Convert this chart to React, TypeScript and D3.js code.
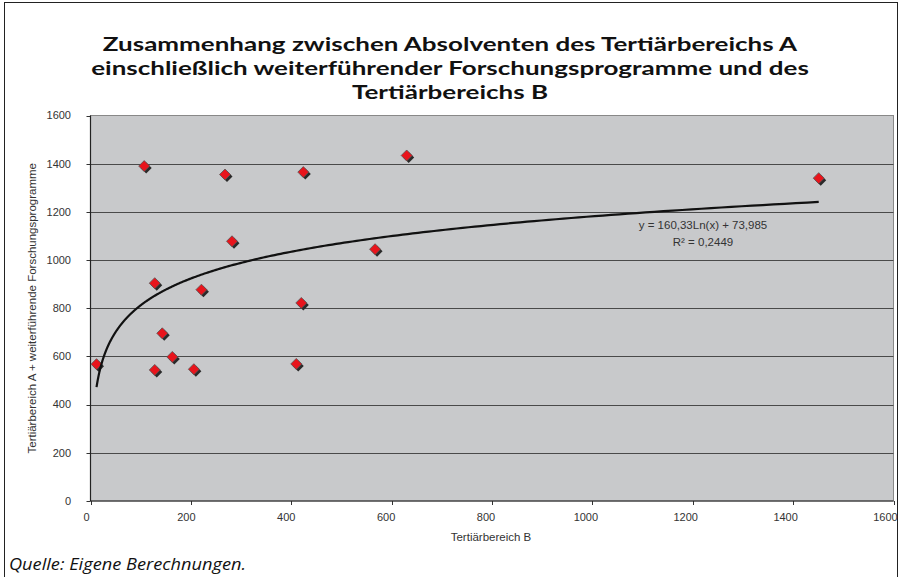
import React, { useLayoutEffect, useRef, useState } from "react";
import * as d3 from "d3";

const titleLines = [
  "Zusammenhang zwischen Absolventen des Tertiärbereichs A",
  "einschließlich weiterführender Forschungsprogramme und des",
  "Tertiärbereichs B",
];
const xValues = [12, 107, 128, 128, 143, 163, 206, 221, 268, 282, 410, 420, 424, 567, 630, 1451];
const yValues = [568, 1390, 904, 544, 696, 598, 547, 877, 1355, 1078, 569, 822, 1365, 1045, 1434, 1340];
const xTicks = [0, 200, 400, 600, 800, 1000, 1200, 1400, 1600];
const yTicks = [0, 200, 400, 600, 800, 1000, 1200, 1400, 1600];
const trendA = 160.33;
const trendB = 73.985;
const equationLines = ["y = 160,33Ln(x) + 73,985", "R² = 0,2449"];
const xLabel = "Tertiärbereich B";
const yLabel = "Tertiärbereich A + weiterführende Forschungsprogramme";
const source = "Quelle: Eigene Berechnungen.";

const W = 901;
const H = 577;
const left = 90.5;
const right = 893.5;
const top = 115.5;
const bottom = 501;
const titleTarget = 694;

export default function App() {
  const titleRef = useRef<SVGTextElement | null>(null);
  const [sx, setSx] = useState(1.15);
  useLayoutEffect(() => {
    if (titleRef.current) {
      const w = titleRef.current.getComputedTextLength();
      if (w > 0) setSx(titleTarget / w);
    }
  }, []);

  const x = d3.scaleLinear().domain([0, 1600]).range([left, right]);
  const y = d3.scaleLinear().domain([0, 1600]).range([bottom, top]);
  const minX = d3.min(xValues) as number;
  const maxX = d3.max(xValues) as number;
  const trendXs = d3.range(0, 301).map((i) => minX * Math.pow(maxX / minX, i / 300));
  const line = d3
    .line<number>()
    .x((d) => x(d))
    .y((d) => y(trendA * Math.log(d) + trendB))
    .curve(d3.curveLinear);
  const pts = xValues.map((v, i) => ({ x: v, y: yValues[i] }));
  const diamond = (cx: number, cy: number, r: number) =>
    `M${cx},${cy - r}L${cx + r},${cy}L${cx},${cy + r}L${cx - r},${cy}Z`;
  const font = "'Liberation Sans', Arial, sans-serif";

  return (
    <svg
      width={W}
      height={H}
      style={{ position: "absolute", left: 0, top: 0, background: "#fff" }}
    >
      <rect x={4.5} y={2.5} width={893} height={580} fill="#fff" stroke="#222" strokeWidth={1} />
      <g transform={`translate(450,0) scale(${sx},1)`}>
        {titleLines.map((t, i) => (
          <text
            key={i}
            ref={i === 0 ? titleRef : undefined}
            x={0}
            y={51 + i * 24}
            textAnchor="middle"
            fontFamily="Lato, 'Open Sans', sans-serif"
            fontWeight={700}
            fontSize={19.5}
            fill="#111"
          >
            {t}
          </text>
        ))}
      </g>
      <rect x={left} y={top} width={right - left} height={bottom - top} fill="#c8c9cb" stroke="#888" strokeWidth={1} />
      {yTicks.map((t) => (
        <g key={"y" + t}>
          {t > 0 && t < 1600 && (
            <line x1={left} x2={right} y1={Math.round(y(t)) + 0.5} y2={Math.round(y(t)) + 0.5} stroke="#4a4a4a" strokeWidth={1} />
          )}
          <line x1={left - 4} x2={left} y1={Math.round(y(t)) + 0.5} y2={Math.round(y(t)) + 0.5} stroke="#333" />
          <text
            x={71}
            y={y(t)}
            dy="0.35em"
            textAnchor="end"
            fontFamily={font}
            fontSize={11}
            fill="#333"
          >
            {t}
          </text>
        </g>
      ))}
      {xTicks.map((t) => (
        <g key={"x" + t}>
          <line x1={Math.round(x(t)) + 0.5} x2={Math.round(x(t)) + 0.5} y1={bottom} y2={bottom + 4} stroke="#333" />
          <text
            x={x(t) - 4 - (4 * t) / 1600}
            y={521}
            textAnchor="middle"
            fontFamily={font}
            fontSize={11}
            fill="#333"
          >
            {t}
          </text>
        </g>
      ))}
      <line x1={left} x2={left} y1={top} y2={bottom} stroke="#222" strokeWidth={1.2} />
      <line x1={left} x2={right} y1={bottom} y2={bottom} stroke="#222" strokeWidth={1.2} />
      {pts.map((p, i) => (
        <g key={"p" + i}>
          <path d={diamond(x(p.x) + 2, y(p.y) + 2, 5.5)} fill="#2a2a2a" />
          <path d={diamond(x(p.x), y(p.y), 5.5)} fill="#e8141c" stroke="#555" strokeWidth={0.8} />
        </g>
      ))}
      <path d={line(trendXs) || ""} fill="none" stroke="#111" strokeWidth={2.2} />
      {equationLines.map((t, i) => (
        <text
          key={"e" + i}
          x={703}
          y={229 + i * 17}
          textAnchor="middle"
          fontFamily={font}
          fontSize={11.5}
          fill="#333"
        >
          {t}
        </text>
      ))}
      <text x={491} y={541} textAnchor="middle" fontFamily={font} fontSize={11.5} fill="#333">
        {xLabel}
      </text>
      <text
        transform={`translate(36,${(top + bottom) / 2}) rotate(-90)`}
        textAnchor="middle"
        fontFamily={font}
        fontSize={11.5}
        fill="#333"
      >
        {yLabel}
      </text>
      <text
        x={9}
        y={570}
        fontFamily="'Open Sans', sans-serif"
        fontStyle="italic"
        fontSize={17}
        textLength={237}
        lengthAdjust="spacingAndGlyphs"
        fill="#111"
      >
        {source}
      </text>
    </svg>
  );
}
